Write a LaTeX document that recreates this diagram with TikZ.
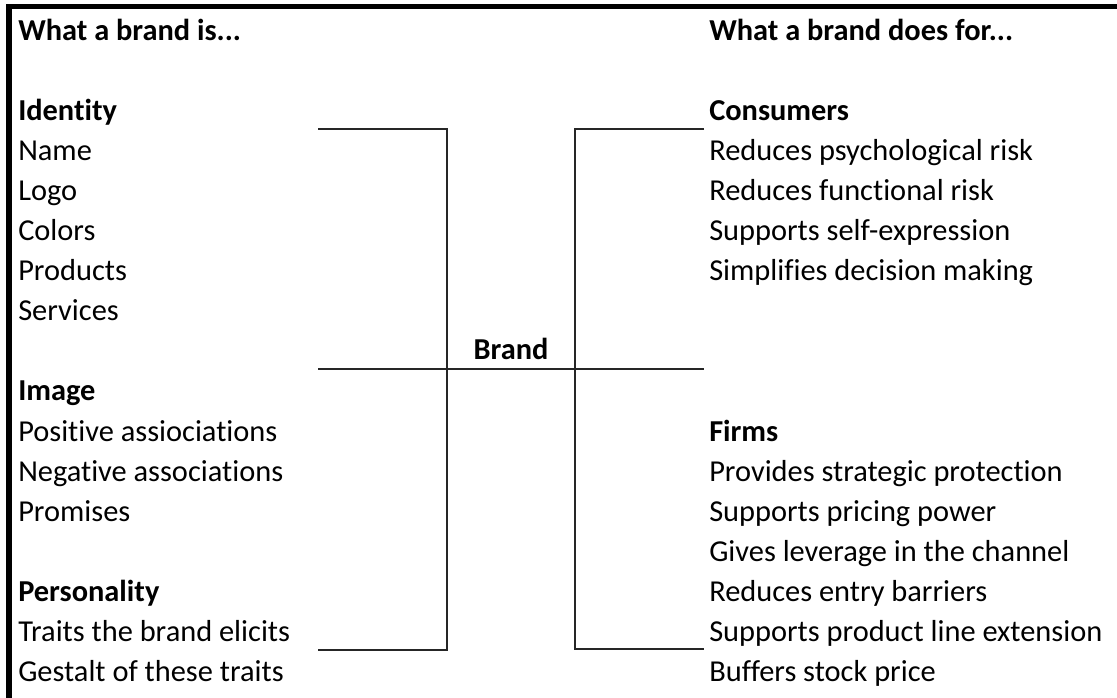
\documentclass[tikz,border=0pt]{standalone}
\usepackage{fontspec}
\setmainfont[Ligatures={NoCommon}]{Carlito}
\begin{document}
\begin{tikzpicture}[x=0.75pt,y=-0.75pt,
  txt/.style={anchor=base west,inner sep=0pt,font=\fontsize{22.8pt}{25pt}\selectfont},
  hd/.style={txt,font=\fontsize{22.8pt}{25pt}\selectfont\bfseries},
  ln/.style={line width=1.6pt,black!85}]
\useasboundingbox (0,0) rectangle (1117,698);
\fill[white] (0,0) rectangle (1117,698);
\draw[line width=3.8pt] (9,698) -- (9,6.5) -- (1117,6.5);
% left column
\node[hd]  (lh)  at (18,41) {What a brand is...};
\node[hd]  (id)  at (18,121) {Identity};
\node[txt] (nm)  at (18,161) {Name};
\node[txt] (lg)  at (18,201) {Logo};
\node[txt] (cl)  at (18,241) {Colors};
\node[txt] (pr)  at (18,281) {Products};
\node[txt] (sv)  at (18,321) {Services};
\node[hd]  (im)  at (18,401) {Image};
\node[txt] (pa)  at (18,441) {Positive assiociations};
\node[txt] (na)  at (18,481) {Negative associations};
\node[txt] (pm)  at (18,521) {Promises};
\node[hd]  (ps)  at (18,601) {Personality};
\node[txt] (tr)  at (18,641) {Traits the brand elicits};
\node[txt] (gs)  at (18,681) {Gestalt of these traits};
% right column
\node[hd]  (rh)  at (709,41) {What a brand does for...};
\node[hd]  (cs)  at (709,121) {Consumers};
\node[txt] (r1)  at (709,161) {Reduces psychological risk};
\node[txt] (r2)  at (709,201) {Reduces functional risk};
\node[txt] (r3)  at (709,241) {Supports self-expression};
\node[txt] (r4)  at (709,281) {Simplifies decision making};
\node[hd]  (fm)  at (709,441) {Firms};
\node[txt] (f1)  at (709,481) {Provides strategic protection};
\node[txt] (f2)  at (709,521) {Supports pricing power};
\node[txt] (f3)  at (709,561) {Gives leverage in the channel};
\node[txt] (f4)  at (709,601) {Reduces entry barriers};
\node[txt] (f5)  at (709,641) {Supports product line extension};
\node[txt] (f6)  at (709,681) {Buffers stock price};
% centre
\node[hd,anchor=base] (br) at (511,360) {Brand};
\coordinate (lt) at (318,129);
\coordinate (lc) at (447,129);
\coordinate (lb) at (447,650);
\coordinate (lbe) at (318,650);
\coordinate (rt) at (704,129);
\coordinate (rc) at (575,129);
\coordinate (rb) at (575,649);
\coordinate (rbe) at (704,649);
\coordinate (ml) at (318,369);
\coordinate (mr) at (704,369);
\draw[ln] (lt) -- (lc) -- (lb) -- (lbe);
\draw[ln] (rt) -- (rc) -- (rb) -- (rbe);
\draw[ln] (ml) -- (mr);
\end{tikzpicture}
\end{document}
